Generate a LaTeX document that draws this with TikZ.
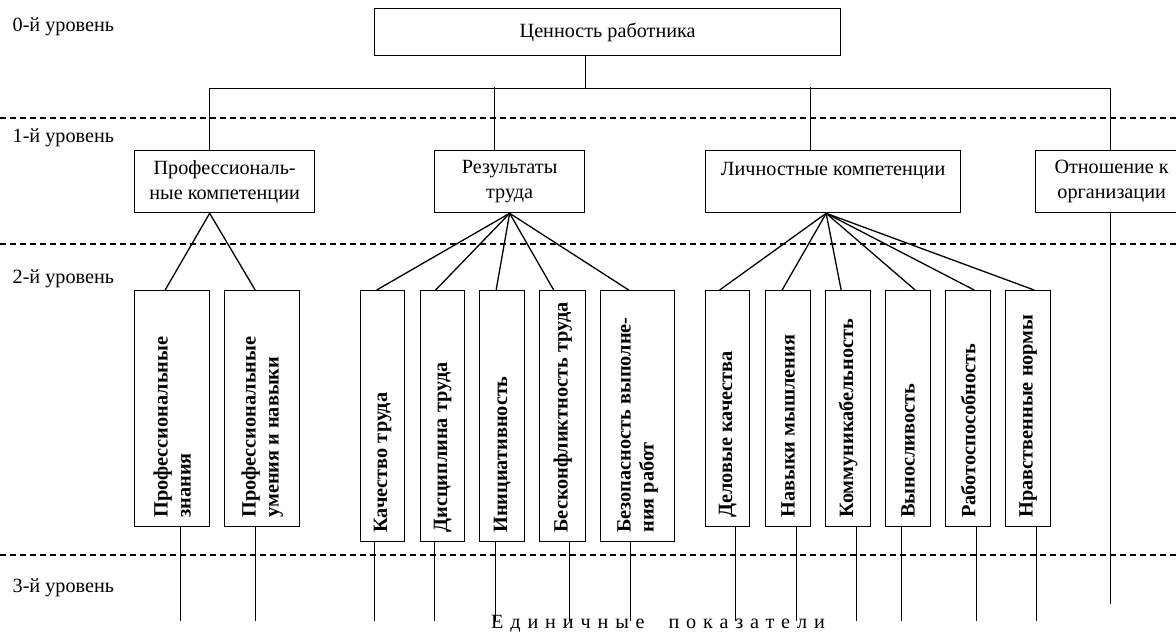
\documentclass[tikz,border=0pt]{standalone}
\usepackage{fontspec}
\setmainfont{Liberation Serif}
\newfontfamily\razryadka[LetterSpace=34,WordSpace=2]{Liberation Serif}

\begin{document}
\begin{tikzpicture}[x=1pt,y=-1pt,line width=1.3pt,
  font=\fontsize{20.2}{25}\selectfont,
  box/.style={draw,align=center,inner sep=0pt,anchor=north west},
  vbox/.style={draw,inner sep=0pt,anchor=north west},
  vtext/.style={rotate=90,anchor=west,align=left,inner sep=0pt,font=\fontsize{20.3}{23}\selectfont\bfseries},
  urov/.style={anchor=west,inner sep=0pt},
  granica/.style={dash pattern=on 6pt off 4pt,line width=1.1pt}]
\useasboundingbox (0,0) rectangle (1176,635);
% границы уровней
\foreach \yy in {118,244,555} \draw[granica] (0,\yy) -- (1176,\yy);
\node[urov] (u0) at (12,27) {0-й уровень};
\node[urov] (u1) at (12,138) {1-й уровень};
\node[urov] (u2) at (12,279) {2-й уровень};
\node[urov] (u3) at (12,588) {3-й уровень};

\node[box,minimum width=466pt,minimum height=47pt] (cen) at (374,8) {Ценность работника};

\node[box,minimum width=180pt,minimum height=62pt] (prof) at (134,150) {Профессиональ-\\ные компетенции};
\node[box,minimum width=150pt,minimum height=62pt] (rez) at (434,150) {Результаты\\труда};
\node[box,minimum width=255pt,minimum height=62pt] (lich) at (705,150) {Личностные компетенции\\\mbox{}};
\node[box,minimum width=152pt,minimum height=62pt] (otn) at (1035,150) {Отношение к\\организации};

\draw ([xshift=-22pt]cen.south) -- ++(0,32) coordinate (shina);
\draw ([xshift=-15pt]prof.north) |- (shina) -| ([xshift=-1pt]otn.north);
\draw ([xshift=-15pt]rez.north) -- ++(0,-63);
\draw ([xshift=-22.5pt]lich.north) -- ++(0,-63);
\draw ([xshift=-1pt]otn.south) -- ++(0,391);

% 2-й уровень
\foreach \nm/\xx/\ww/\hh/\txt in {
  pz/134/75/236/{Профессиональные\\знания},
  pu/224/75/236/{Профессиональные\\умения и навыки},
  kt/360/44/251/{Качество труда},
  dt/420/44/251/{Дисциплина труда},
  ini/479/45/251/{Инициативность},
  bk/539/46/251/{Бесконфликтность труда},
  bv/600/74/251/{Безопасность выполне-\\ния работ},
  dk/705/44/236/{Деловые качества},
  nav/765/45/236/{Навыки мышления},
  km/825/45/236/{Коммуникабельность},
  vy/885/45/236/{Выносливость},
  rs/945/45/236/{Работоспособность},
  nn/1005/45/236/{Нравственные нормы}} {
  \node[vbox,minimum width=\ww pt,minimum height=\hh pt] (\nm) at (\xx,290) {};
  \node[vtext] at ([yshift=9pt]\nm.south) {\txt};
}

\foreach \nm/\dx in {pz/-7,pu/-7}
  \draw ([xshift=-15pt]prof.south) -- ([xshift=\dx pt]\nm.north);
\foreach \nm/\dx in {kt/-6,dt/-7,ini/-6,bk/-9,bv/-9}
  \draw (rez.south) -- ([xshift=\dx pt]\nm.north);
\foreach \nm/\dx in {dk/-8,nav/-6,km/-7,vy/7,rs/6,nn/6}
  \draw ([xshift=-7pt]lich.south) -- ([xshift=\dx pt]\nm.north);

% 3-й уровень
\foreach \nm/\dx/\len in {pz/8/94,pu/-7/94,kt/-8/79,dt/-8/79,ini/-7/79,bk/7/79,bv/-7/79,
  dk/8/94,nav/8/94,km/8/94,vy/-7/94,rs/8/94,nn/8/94}
  \draw ([xshift=\dx pt]\nm.south) -- ++(0,\len);
\node (edin) at (658,624) {\razryadka Единичные показатели};
\end{tikzpicture}
\end{document}
